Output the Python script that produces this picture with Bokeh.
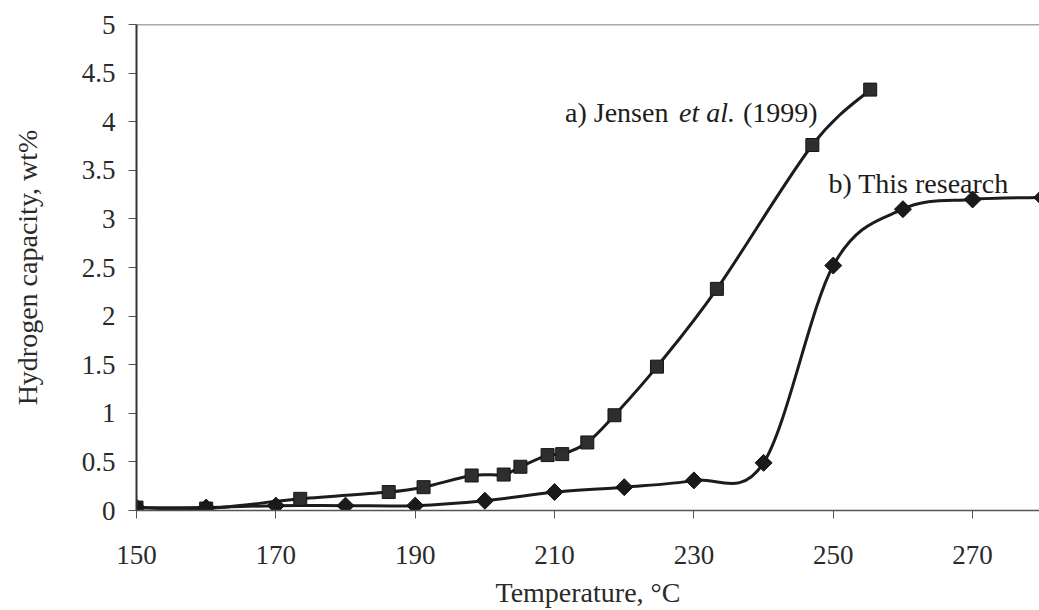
import numpy as np
from bokeh.plotting import figure
from bokeh.models import ColumnDataSource, FixedTicker, NumeralTickFormatter, Range1d, Span
from bokeh.core.properties import value
from bokeh.embed import file_html
from bokeh.resources import INLINE

# Hydrogen desorption vs temperature
temp_jensen = [150, 160, 173.5, 186.2, 191.2, 198.1, 202.7, 205.1, 209.0, 211.1,
               214.7, 218.6, 224.7, 233.3, 247.0, 255.3]
cap_jensen = [0.03, 0.02, 0.12, 0.19, 0.24, 0.36, 0.37, 0.45, 0.57, 0.58,
              0.70, 0.98, 1.48, 2.28, 3.76, 4.33]

temp_this = [150, 160, 170, 180, 190, 200, 210, 220, 230, 240, 250, 260, 270, 280]
cap_this = [0.03, 0.03, 0.05, 0.05, 0.05, 0.10, 0.19, 0.24, 0.31, 0.49, 2.52, 3.10, 3.20, 3.22]

x_ticks = [150, 170, 190, 210, 230, 250, 270]
y_ticks = [0, 0.5, 1, 1.5, 2, 2.5, 3, 3.5, 4, 4.5, 5]

label_jensen = ["a) Jensen", "et al.", "(1999)"]
label_this = "b) This research"

SERIF = "Liberation Serif"
INK = "#1c1c1c"


def smooth_segments(xs, ys):
    """Cubic Bezier control points for a Catmull-Rom style smoothed line."""
    n = len(xs)
    out = {k: [] for k in ("x0", "y0", "x1", "y1", "cx0", "cy0", "cx1", "cy1")}
    for i in range(n - 1):
        a = i - 1 if i > 0 else i
        b = i + 2 if i + 2 < n else i + 1
        out["x0"].append(xs[i])
        out["y0"].append(ys[i])
        out["x1"].append(xs[i + 1])
        out["y1"].append(ys[i + 1])
        out["cx0"].append(xs[i] + (xs[i + 1] - xs[a]) / 6.0)
        out["cy0"].append(ys[i] + (ys[i + 1] - ys[a]) / 6.0)
        out["cx1"].append(xs[i + 1] - (xs[b] - xs[i]) / 6.0)
        out["cy1"].append(ys[i + 1] - (ys[b] - ys[i]) / 6.0)
    return ColumnDataSource(out)


p = figure(width=1039, height=610, output_backend="svg", toolbar_location=None,
           x_range=Range1d(150, 279.6), y_range=Range1d(0, 5),
           min_border_left=136, min_border_right=0, min_border_top=24, min_border_bottom=0)
p.outline_line_color = None
p.grid.grid_line_color = None
p.background_fill_color = "white"
p.border_fill_color = "white"

# top frame edge
p.add_layout(Span(location=5, dimension="width", line_color="#555555", line_width=1.5))

for xs, ys in ((temp_jensen, cap_jensen), (temp_this, cap_this)):
    p.bezier(x0="x0", y0="y0", x1="x1", y1="y1", cx0="cx0", cy0="cy0", cx1="cx1", cy1="cy1",
             source=smooth_segments(xs, ys), line_color=INK, line_width=3, line_cap="round")

p.scatter(temp_jensen, cap_jensen, marker="square", size=13,
          fill_color="#2e2e2e", line_color="#151515", line_width=1)
p.scatter(temp_this, cap_this, marker="square", angle=np.pi / 4, size=12,
          fill_color="#1a1a1a", line_color="#111111", line_width=1)

# series annotations
offsets = [0, 114, 178]
styles = ["normal", "italic", "normal"]
for txt, off, st in zip(label_jensen, offsets, styles):
    p.text(x=[211.5], y=[4.09], text=[txt], x_offset=off, text_font=value(SERIF),
           text_font_size="28px", text_font_style=st, text_color=INK,
           text_baseline="alphabetic", text_align="left")
p.text(x=[249.3], y=[3.36], text=[label_this], text_font=value(SERIF),
       text_font_size="28px", text_color=INK, text_baseline="alphabetic", text_align="left")

# axes
p.xaxis.ticker = FixedTicker(ticks=x_ticks)
p.yaxis.ticker = FixedTicker(ticks=y_ticks)
p.yaxis.formatter = NumeralTickFormatter(format="0.[0]")
p.xaxis.axis_label = "Temperature, °C"
p.yaxis.axis_label = "Hydrogen capacity, wt%"

for ax in (p.xaxis[0], p.yaxis[0]):
    ax.minor_tick_line_color = None
    ax.major_tick_in = 0
    ax.major_tick_out = 8
    ax.major_label_text_font = SERIF
    ax.major_label_text_font_size = "27px"
    ax.major_label_text_color = "#2a2a2a"
    ax.axis_label_text_font = SERIF
    ax.axis_label_text_font_size = "28px"
    ax.axis_label_text_font_style = "normal"
    ax.axis_label_text_color = "#2a2a2a"

p.xaxis.axis_line_color = "#555555"
p.xaxis.axis_line_width = 1.5
p.xaxis.major_tick_line_color = "#555555"
p.xaxis.major_label_standoff = 27
p.xaxis.axis_label_standoff = 10

p.yaxis.axis_line_color = "#333333"
p.yaxis.axis_line_width = 2
p.yaxis.major_tick_line_color = "#555555"
p.yaxis.major_label_standoff = 13
p.yaxis.axis_label_standoff = 36

open("out.html", "w").write(file_html(p, INLINE))
